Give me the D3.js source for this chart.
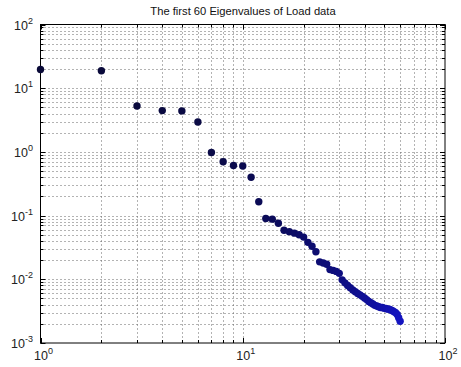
<!DOCTYPE html>
<html><head><meta charset="utf-8">
<script src="https://cdn.jsdelivr.net/npm/d3@7"></script>
<style>body{margin:0;background:#fff}svg{display:block}</style>
</head><body>
<svg id="c" width="461" height="367"></svg>
<script>
const title = "The first 60 Eigenvalues of Load data";
const xDomain = [1, 100];
const yDomain = [1e-3, 1e2];
const xTickExps = [0, 1, 2];
const yTickExps = [-3, -2, -1, 0, 1, 2];
const eigenvalues = [
  19.7, 18.8, 5.25, 4.45, 4.4, 2.95, 0.98, 0.70, 0.61, 0.60,
  0.40, 0.165, 0.090, 0.088, 0.076, 0.059, 0.056, 0.053, 0.050, 0.046,
  0.038, 0.033, 0.027, 0.0188, 0.0180, 0.0172, 0.0142, 0.0138, 0.0133, 0.0124,
  0.0098, 0.0088, 0.0080, 0.0074, 0.0068, 0.0064, 0.0060, 0.0057, 0.0054, 0.0051,
  0.0048, 0.0045, 0.0043, 0.0041, 0.0039, 0.0038, 0.0037, 0.0036, 0.0036, 0.0035,
  0.0035, 0.0034, 0.0034, 0.0033, 0.0032, 0.0031, 0.0030, 0.0028, 0.0025, 0.0022
];
const index = eigenvalues.map((d, i) => i + 1);

const svg = d3.select("#c");
const m = {l: 40.5, r: 445, t: 24.5, b: 343};
const x = d3.scaleLog().domain(xDomain).range([m.l, m.r]);
const y = d3.scaleLog().domain(yDomain).range([m.b, m.t]);

svg.append("rect").attr("x", m.l).attr("y", m.t).attr("width", m.r - m.l).attr("height", m.b - m.t).attr("fill", "#fff");

function logTicks(lo, hi) {
  const out = [];
  for (let e = lo; e < hi; e++) for (let k = 1; k <= 9; k++) out.push({v: k * Math.pow(10, e), major: k === 1});
  out.push({v: Math.pow(10, hi), major: true});
  return out;
}
const xt = logTicks(0, 2);
const yt = logTicks(-3, 2);

const g = svg.append("g");
g.selectAll(".gx").data(xt.filter(d => d.v > xDomain[0] && d.v < xDomain[1])).join("line")
  .attr("x1", d => Math.round(x(d.v)) + 0.5).attr("x2", d => Math.round(x(d.v)) + 0.5)
  .attr("y1", m.t).attr("y2", m.b)
  .attr("stroke", "#666").attr("stroke-width", 1).attr("stroke-dasharray", "1,3");
g.selectAll(".gy").data(yt.filter(d => d.v > yDomain[0] && d.v < yDomain[1])).join("line")
  .attr("y1", d => Math.round(y(d.v)) + 0.5).attr("y2", d => Math.round(y(d.v)) + 0.5)
  .attr("x1", m.l).attr("x2", m.r)
  .attr("stroke", "#666").attr("stroke-width", 1).attr("stroke-dasharray", "1,3");

const tk = svg.append("g").attr("stroke", "#000").attr("stroke-width", 1);
xt.forEach(d => {
  const px = Math.round(x(d.v)) + 0.5, L = d.major ? 5 : 3;
  tk.append("line").attr("x1", px).attr("x2", px).attr("y1", m.b).attr("y2", m.b - L);
  tk.append("line").attr("x1", px).attr("x2", px).attr("y1", m.t).attr("y2", m.t + L);
});
yt.forEach(d => {
  const py = Math.round(y(d.v)) + 0.5, L = d.major ? 5 : 3;
  tk.append("line").attr("y1", py).attr("y2", py).attr("x1", m.l).attr("x2", m.l + L);
  tk.append("line").attr("y1", py).attr("y2", py).attr("x1", m.r).attr("x2", m.r - L);
});
svg.append("rect").attr("x", m.l).attr("y", m.t).attr("width", m.r - m.l).attr("height", m.b - m.t)
  .attr("fill", "none").attr("stroke", "#000").attr("stroke-width", 1);

const col = d3.scaleLinear().domain([1, 20, 60]).range(["#0a0a38", "#0c0c6a", "#1414c0"]).interpolate(d3.interpolateRgb);
svg.append("g").selectAll("circle").data(eigenvalues).join("circle")
  .attr("cx", (d, i) => x(index[i])).attr("cy", d => y(d)).attr("r", 3.7)
  .attr("fill", (d, i) => col(index[i]));

const font = "Arial, 'Liberation Sans', sans-serif";
function powLabel(sel, e, px, py, anchor) {
  const t = sel.append("text").attr("font-family", font).attr("font-size", 12.5).attr("fill", "#222")
    .attr("x", px).attr("y", py).attr("text-anchor", anchor);
  t.append("tspan").text("10");
  t.append("tspan").attr("dy", -6).attr("font-size", 9).text(e);
}
const lab = svg.append("g");
yTickExps.forEach(e => powLabel(lab, e, 33, y(Math.pow(10, e)) + 5, "end"));
xTickExps.forEach(e => powLabel(lab, e, x(Math.pow(10, e)) + 3, 360, "middle"));

svg.append("text").attr("x", 243).attr("y", 15).attr("text-anchor", "middle")
  .attr("font-family", font).attr("font-size", 11.2).attr("fill", "#111").text(title);
</script>
</body></html>
